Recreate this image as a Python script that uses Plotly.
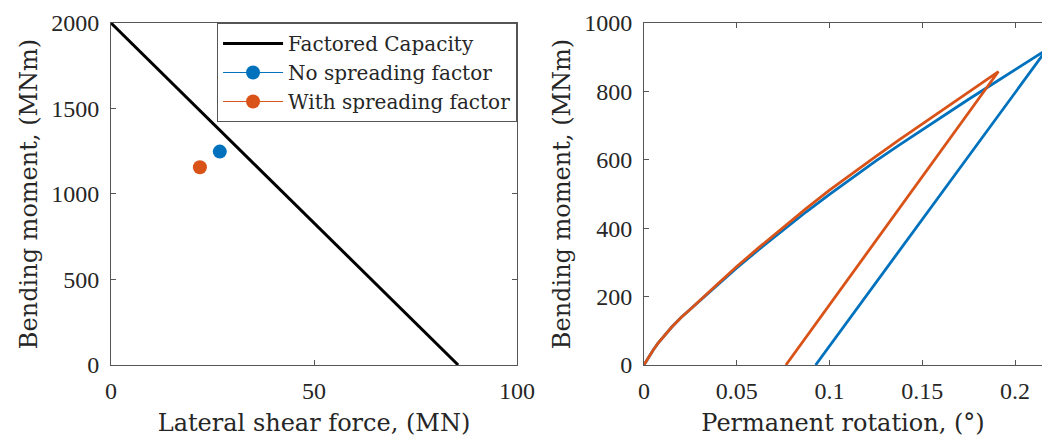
import plotly.graph_objects as go

# ---- data ----
cap_shear = [0, 85.5]
cap_moment = [2000, 0]

no_spread_shear = [26.8]
no_spread_moment = [1248]
with_spread_shear = [21.9]
with_spread_moment = [1156]

blue_rot = [0, 0.0025, 0.005, 0.0075, 0.01, 0.015, 0.02, 0.025, 0.0375, 0.05, 0.0625, 0.075,
            0.0875, 0.1, 0.1125, 0.125, 0.1375, 0.15, 0.1625, 0.175, 0.1875, 0.2, 0.217, 0.0925]
blue_mom = [0, 23, 44, 63, 80, 111, 139, 163, 225, 284, 340, 395,
            448, 499, 549, 597, 643, 688, 733, 777, 820, 863, 922, 0]
orange_rot = [0, 0.0025, 0.005, 0.0075, 0.01, 0.015, 0.02, 0.025, 0.0375, 0.05, 0.0625, 0.075,
              0.0875, 0.1, 0.1125, 0.125, 0.1375, 0.15, 0.1625, 0.175, 0.191, 0.0765]
orange_mom = [0, 23, 44, 63, 80, 111, 139, 163, 226, 288, 346, 403,
              458, 511, 561, 610, 658, 705, 752, 798, 858, 0]

left_xticks = [0, 50, 100]
left_yticks = [0, 500, 1000, 1500, 2000]
right_xticks = [0, 0.05, 0.1, 0.15, 0.2]
right_xticktext = ["0", "0.05", "0.1", "0.15", "0.2"]
right_yticks = [0, 200, 400, 600, 800, 1000]

BLUE = "#0072BD"
ORANGE = "#D95319"
TICKFONT = "Liberation Serif"
TEXTFONT = "DejaVu Serif"
AX = "#555555"

fig = go.Figure()
fig.add_trace(go.Scatter(x=cap_shear, y=cap_moment, mode="lines", name="Factored Capacity",
                         line=dict(color="black", width=3), xaxis="x", yaxis="y"))
fig.add_trace(go.Scatter(x=no_spread_shear, y=no_spread_moment, mode="lines+markers",
                         name="No spreading factor", line=dict(color=BLUE, width=1),
                         marker=dict(color=BLUE, size=14), xaxis="x", yaxis="y"))
fig.add_trace(go.Scatter(x=with_spread_shear, y=with_spread_moment, mode="lines+markers",
                         name="With spreading factor", line=dict(color=ORANGE, width=1),
                         marker=dict(color=ORANGE, size=14), xaxis="x", yaxis="y"))
fig.add_trace(go.Scatter(x=blue_rot, y=blue_mom, mode="lines", showlegend=False,
                         line=dict(color=BLUE, width=2.8), xaxis="x2", yaxis="y2"))
fig.add_trace(go.Scatter(x=orange_rot, y=orange_mom, mode="lines", showlegend=False,
                         line=dict(color=ORANGE, width=2.8), xaxis="x2", yaxis="y2"))

tickfont = dict(family=TICKFONT, size=24, color="#262626")
titlefont = dict(family=TEXTFONT, size=24, color="#262626")
common = dict(showgrid=False, zeroline=False, showline=True, linecolor=AX, linewidth=1,
              ticks="inside", ticklen=5, tickcolor=AX, tickfont=tickfont, automargin=False)

fig.update_layout(
    width=1042, height=437,
    margin=dict(l=0, r=0, t=0, b=0),
    paper_bgcolor="white", plot_bgcolor="white",
    xaxis=dict(domain=[0.1065, 0.4962], range=[0, 100], tickvals=left_xticks, mirror="ticks",
               title=dict(text="Lateral shear force, (MN)", font=titlefont, standoff=14),
               anchor="y", ticklabelstandoff=4, **common),
    yaxis=dict(domain=[0.1648, 0.9474], range=[0, 2000], tickvals=left_yticks, mirror="ticks",
               title=dict(text="Bending moment, (MNm)", font=titlefont, standoff=6),
               anchor="x", ticklabelstandoff=6, **common),
    xaxis2=dict(domain=[0.618, 1.0], range=[0, 0.2145], tickvals=right_xticks,
                ticktext=right_xticktext, mirror="ticks",
                title=dict(text="Permanent rotation, (°)", font=titlefont, standoff=14),
                anchor="y2", ticklabelstandoff=4, **common),
    yaxis2=dict(domain=[0.1648, 0.9474], range=[0, 1000], tickvals=right_yticks,
                title=dict(text="Bending moment, (MNm)", font=titlefont, standoff=6),
                anchor="x2", ticklabelstandoff=6, **common),
    legend=dict(x=0.4962, y=0.9474, xanchor="right", yanchor="top",
                bgcolor="white", bordercolor=AX, borderwidth=1,
                font=dict(family=TEXTFONT, size=20, color="#262626"),
                tracegroupgap=0, itemwidth=60),
)

fig.write_html("out.html")
